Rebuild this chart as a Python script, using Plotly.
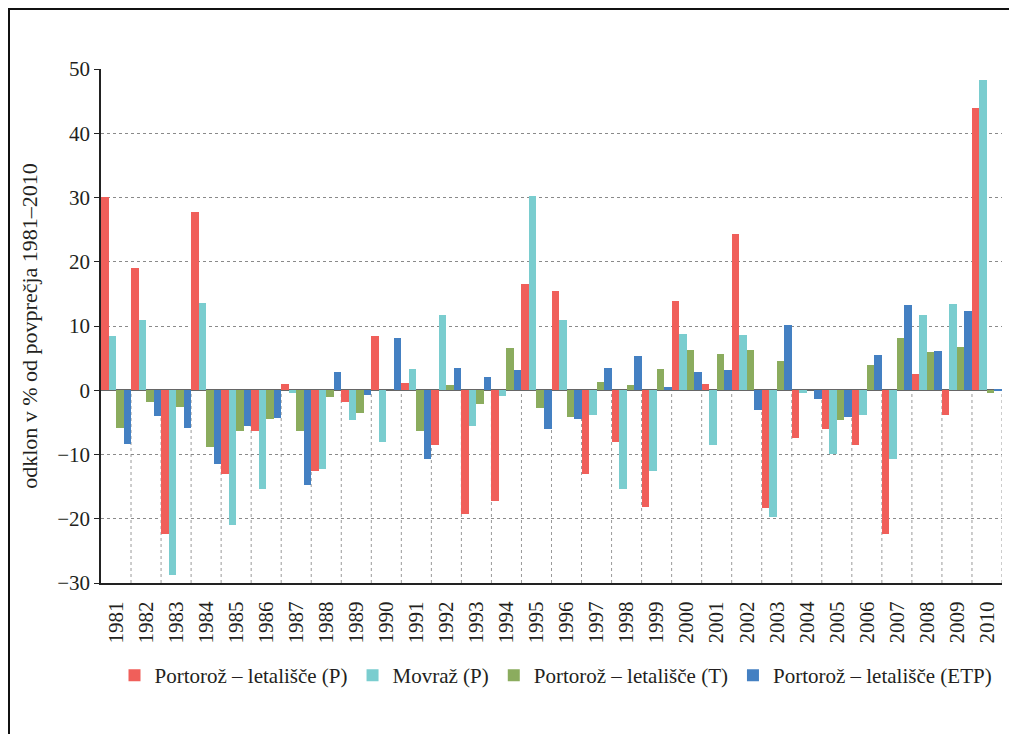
import plotly.graph_objects as go

years = [str(y) for y in range(1981, 2011)]

portoroz_p = [30.1, 19.0, -22.4, 27.8, -13.0, -6.4, 1.0, -12.5, -1.8, 8.5,
              1.1, -8.5, -19.2, -17.3, 16.6, 15.4, -13.1, -8.0, -18.1, 13.9,
              1.0, 24.3, -18.4, -7.4, -6.1, -8.5, -22.3, 2.5, -3.8, 43.9]
movraz_p = [8.5, 10.9, -28.8, 13.6, -20.9, -15.3, -0.4, -12.2, -4.6, -8.1,
            3.3, 11.7, -5.5, -0.9, 30.2, 10.9, -3.8, -15.3, -12.5, 8.7,
            -8.5, 8.6, -19.7, -0.5, -9.9, -3.8, -10.7, 11.7, 13.4, 48.3]
portoroz_t = [-5.9, -1.8, -2.6, -8.8, -6.3, -4.4, -6.3, -1.1, -3.5, 0.0,
              -6.4, 0.8, -2.2, 6.6, -2.8, -4.1, 1.3, 0.8, 3.3, 6.3,
              5.6, 6.3, 4.6, 0.0, -4.7, 3.9, 8.1, 5.9, 6.8, -0.5]
portoroz_etp = [-8.3, -4.0, -5.8, -11.4, -5.5, -4.3, -14.8, 2.8, -0.7, 8.1,
                -10.7, 3.5, 2.1, 3.2, -6.1, -4.4, 3.5, 5.4, 0.5, 2.8,
                3.2, -3.0, 10.2, -1.4, -4.1, 5.5, 13.3, 6.1, 12.3, 0.2]

series_names = ["Portorož – letališče (P)", "Movraž (P)",
                "Portorož – letališče (T)", "Portorož – letališče (ETP)"]
series_values = [portoroz_p, movraz_p, portoroz_t, portoroz_etp]
colors = ["#F05F5A", "#7ACDCF", "#8BAC5E", "#4480C2"]

y_ticks = [50, 40, 30, 20, 10, 0, -10, -20, -30]
y_tick_text = ["50", "40", "30", "20", "10", "0", "−10", "−20", "−30"]

FONT = "Liberation Serif, DejaVu Serif, serif"
TXT = "#231F20"

# page body has an 8px margin, so the figure is sized/offset to compensate
W, H = 1009, 726
ML, MR, MT, MB = 93, 15, 61, 151
PW = W - ML - MR
PH = H - MT - MB

fig = go.Figure()
for name, vals, col in zip(series_names, series_values, colors):
    fig.add_trace(go.Bar(x=years, y=vals, name=name, marker_color=col,
                         marker_line_width=0))

shapes = []
for i in range(len(years)):
    shapes.append(dict(type="line", xref="x", yref="y",
                       x0=i + 0.5, x1=i + 0.5, y0=-30, y1=0,
                       line=dict(color="#9a9a9a", width=1, dash="dot"),
                       layer="below"))
# outer frame (top and left edges visible)
shapes.append(dict(type="rect", xref="paper", yref="paper",
                   x0=(1 - ML) / PW, x1=1.2, y0=-0.5, y1=(PH + MT - 1) / PH,
                   line=dict(color="#111", width=2), layer="below"))

fig.update_layout(
    width=W, height=H,
    margin=dict(l=ML, r=MR, t=MT, b=MB, autoexpand=False),
    paper_bgcolor="white", plot_bgcolor="white",
    barmode="group", bargap=0, bargroupgap=0,
    font=dict(family=FONT, color=TXT, size=20),
    showlegend=True,
    legend=dict(orientation="h", x=0.505, xanchor="center",
                y=-0.18, yanchor="middle",
                font=dict(family=FONT, size=21, color=TXT),
                itemwidth=30, traceorder="normal"),
    shapes=shapes,
)
fig.update_xaxes(type="category", range=[-0.5, 29.5],
                 tickangle=-90, tickfont=dict(family=FONT, size=21, color=TXT),
                 showline=True, linecolor="#222", linewidth=2,
                 ticks="outside", ticklen=8, tickcolor="rgba(0,0,0,0)",
                 showgrid=False, zeroline=False)
fig.update_yaxes(range=[-30, 50], tickvals=y_ticks, ticktext=y_tick_text,
                 tickfont=dict(family=FONT, size=21, color=TXT),
                 showline=True, linecolor="#222", linewidth=1.5,
                 ticks="outside", ticklen=5, tickcolor="#222",
                 showgrid=True, gridcolor="#8a8a8a", griddash="dot", gridwidth=1,
                 zeroline=True, zerolinecolor="#666", zerolinewidth=2,
                 title=dict(text="odklon v % od povprečja 1981–2010",
                            font=dict(family=FONT, size=22, color=TXT),
                            standoff=14))

fig.write_html("out.html")
